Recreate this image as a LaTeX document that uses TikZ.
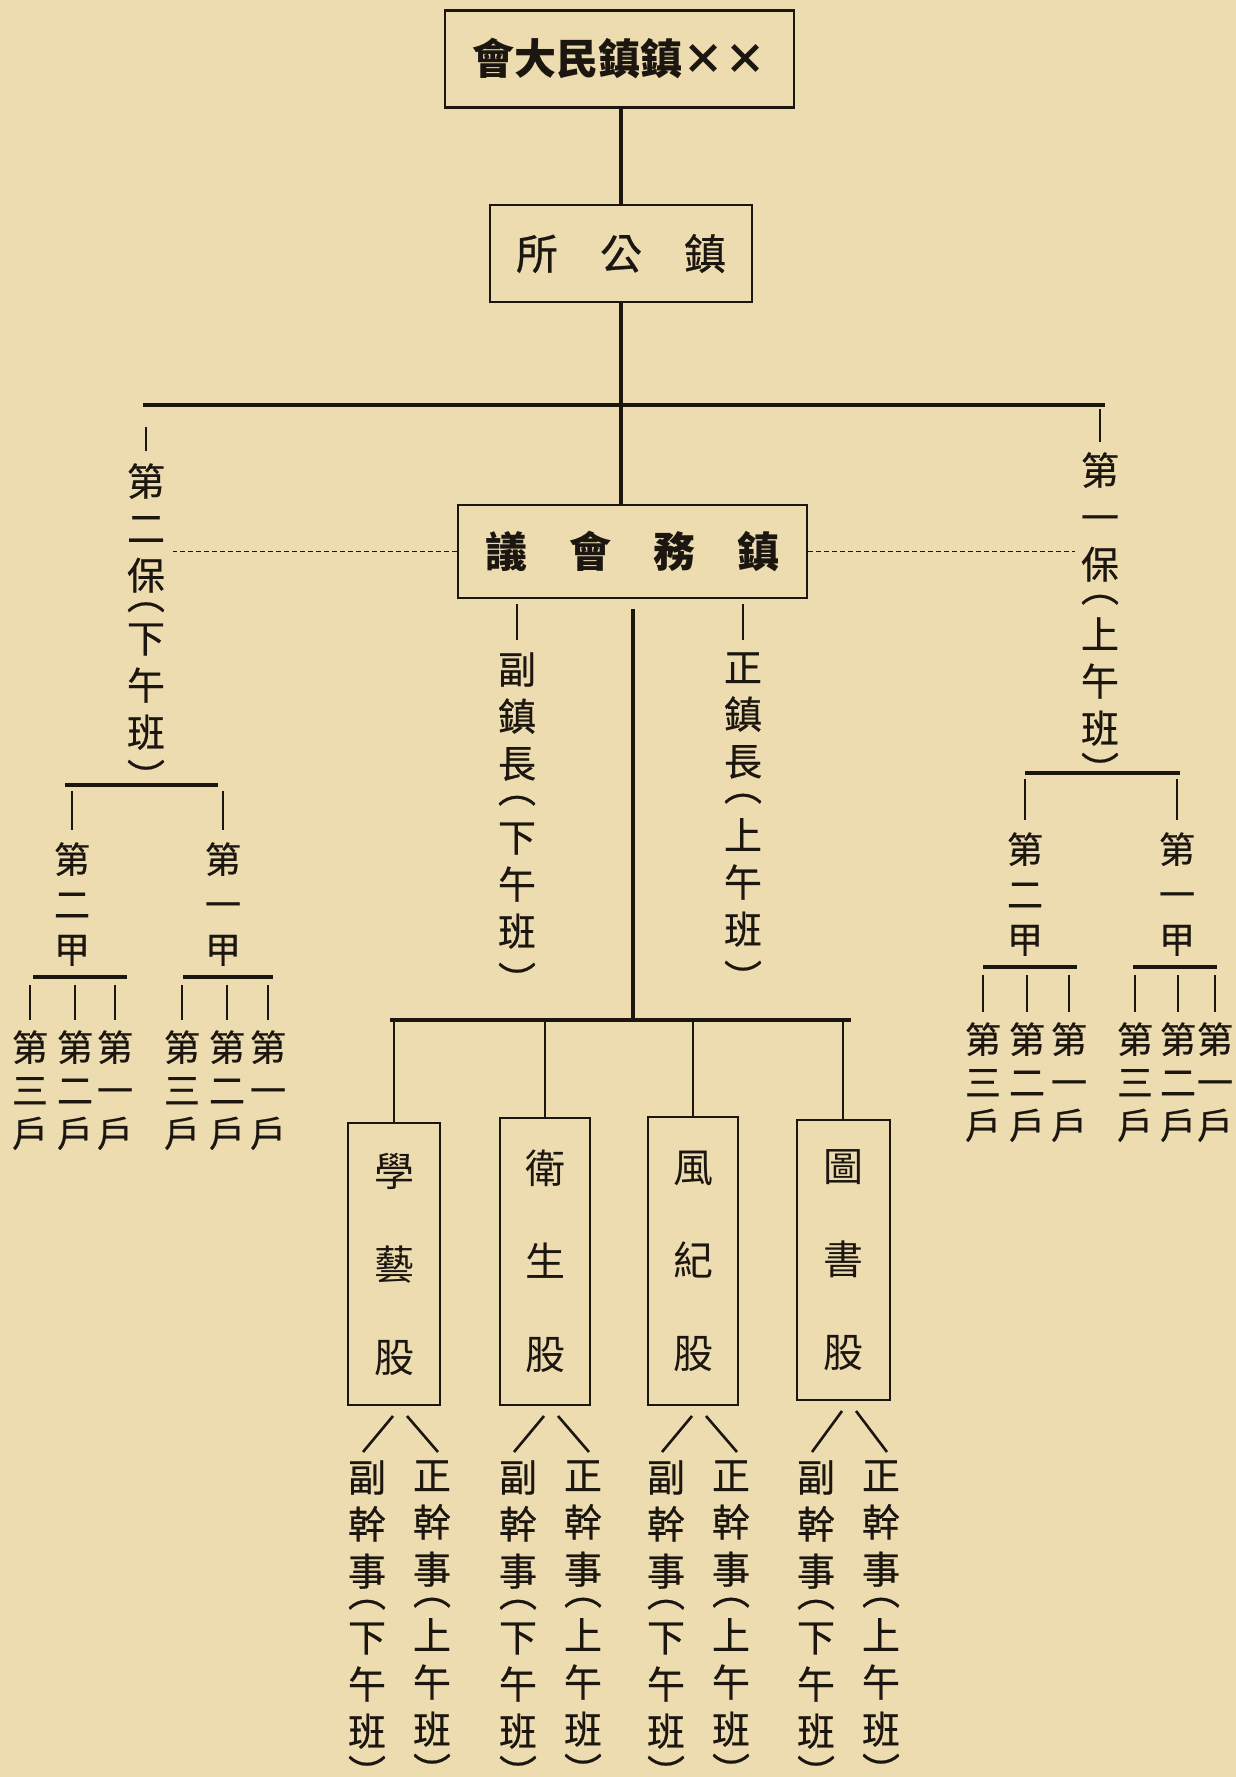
\documentclass[tikz,border=0pt]{standalone}
\usepackage{fontspec}
\newfontfamily\cjk{Noto Sans CJK TC}
\newfontfamily\cjkl{Noto Sans CJK TC}[FakeBold=0.6]
\usetikzlibrary{calc}
\definecolor{paper}{RGB}{237,220,176}
\definecolor{ink}{RGB}{28,22,16}
\newcommand{\fLab}{\cjkl\fontsize{19}{23.5}\selectfont}
\newcommand{\fSmall}{\cjkl\fontsize{18}{22.5}\selectfont}
\newcommand{\fHu}{\cjkl\fontsize{18}{21.5}\selectfont}
\newcommand{\fBox}{\cjk\fontsize{20}{46.5}\selectfont}
\newcommand{\fHead}{\cjk\bfseries\fontsize{21}{24}\selectfont}
\newcommand{\fOff}{\cjkl\fontsize{21}{24}\selectfont}
% vertical parentheses, centred on their line and taking no room of their own
\newcommand{\po}{\raisebox{0.31em}[0pt][0pt]{︵}}
\newcommand{\pc}{\raisebox{-0.34em}[0pt][0pt]{︶}}
\begin{document}
\begin{tikzpicture}[x=0.5pt,y=-0.5pt,
  hbox/.style={draw=ink,line width=1.1pt,inner sep=0pt,text=ink},
  vbox/.style={draw=ink,line width=1pt,inner sep=0pt,text=ink,align=center,font=\fBox},
  bar/.style={draw=ink,line width=2.4pt},
  vline/.style={draw=ink,line width=2pt},
  thin/.style={draw=ink,line width=0.9pt},
  tick/.style={draw=ink,line width=1.3pt},
  dashline/.style={draw=ink,line width=0.6pt,dash pattern=on 2.5pt off 1.5pt},
  vlab/.style={inner sep=0pt,anchor=north,align=center,text=ink}]
\fill[paper] (0,0) rectangle (1236,1777);
\useasboundingbox (0,0) rectangle (1236,1777);

% top levels
\node[hbox,minimum width=174.5pt,minimum height=48.5pt,font=\fHead] (top) at (619.5,59) {會大民鎮鎮××};
\node[hbox,minimum width=131pt,minimum height=48.5pt,font=\fOff] (office) at (621,253.5) {所　公　鎮};
\node[hbox,minimum width=174.5pt,minimum height=46.5pt,font=\fHead] (council) at (632.5,551.5) {議　會　務　鎮};

\draw[vline] (office.north) -- (office.north |- top.south);
\draw[vline] (office.south) -- (office.south |- council.north);

% main bar
\coordinate (barL) at (143,405);
\coordinate (barR) at (1105,405);
\draw[bar] (barL) -- (barR);

% bao labels
\node[vlab,font=\fLab] (bao2) at (146,463) {第\\二\\保\\[-7.75pt]\po\\[-7.75pt]下\\午\\班\\[-7.5pt]\pc};
\node[vlab,font=\fLab] (bao1) at (1100,452) {第\\一\\保\\[-6pt]\po\\[-6pt]上\\午\\班\\[-9pt]\pc};
\draw[tick] ($(bao2.north |- barL)+(0,22)$) -- ($(bao2.north)+(0,-12)$);
\draw[tick] ($(bao1.north |- barR)+(0,4)$) -- ($(bao1.north)+(0,-10)$);

\draw[dashline] (council.west) -- ($(council.west -| bao2.east)+(8,0)$);
\draw[dashline] (council.east) -- ($(council.east -| bao1.west)+(-6,0)$);

% zhen zhang
\node[vlab,font=\fLab] (fu) at (517,652) {副\\鎮\\長\\[-5pt]\po\\[-5pt]下\\午\\班\\[-5.5pt]\pc};
\node[vlab,font=\fLab] (zh) at (743,652) {正\\鎮\\長\\[-5pt]\po\\[-5pt]上\\午\\班\\[-5.5pt]\pc};
\draw[tick] ($(council.south -| fu.north)+(0,5)$) -- ($(fu.north)+(0,-12)$);
\draw[tick] ($(council.south -| zh.north)+(0,5)$) -- ($(zh.north)+(0,-12)$);

% central stem and lower bar
\coordinate (bar2L) at (390,1020);
\coordinate (bar2R) at (851,1020);
\draw[vline] ($(council.south)+(0,10)$) -- (council.south |- bar2L);
\draw[bar] (bar2L) -- (bar2R);

% sections
\node[vbox,minimum width=46pt,minimum height=141pt] (b1) at (394,1264) {學\\藝\\股};
\node[vbox,minimum width=45pt,minimum height=143.5pt] (b2) at (545,1261.5) {衛\\生\\股};
\node[vbox,minimum width=45pt,minimum height=144pt] (b3) at (693,1261) {風\\紀\\股};
\node[vbox,minimum width=46.5pt,minimum height=140pt] (b4) at (843,1260) {圖\\書\\股};
\foreach \b in {b1,b2,b3,b4}{
  \draw[thin] (\b.north |- bar2L) -- (\b.north);
}

% officers under sections
\foreach \b/\c in {b1/394,b2/545,b3/693,b4/843}{
  \node[vlab,font=\fLab] (f\b) at (\c-27,1460) {副\\幹\\事\\[-7pt]\po\\[-7pt]下\\午\\班\\[-9pt]\pc};
  \node[vlab,font=\fLab] (z\b) at (\c+38,1460) {正\\幹\\事\\[-7pt]\po\\[-7pt]上\\午\\班\\[-9pt]\pc};
  \draw[tick] ($(\b.south)+(-1,10)$) -- ($(f\b.north)+(-4,-8)$);
  \draw[tick] ($(\b.south)+(13,10)$) -- ($(z\b.north)+(6,-8)$);
}

% left bao subtree
\coordinate (lsbL) at (65,785);
\coordinate (lsbR) at (218,785);
\draw[bar] (lsbL) -- (lsbR);
\node[vlab,font=\fSmall] (lj2) at (72,842) {第\\二\\甲};
\node[vlab,font=\fSmall] (lj1) at (223,842) {第\\一\\甲};
\draw[tick] ($(lj2.north |- lsbL)+(0,6)$) -- ($(lj2.north)+(0,-12)$);
\draw[tick] ($(lj1.north |- lsbL)+(0,6)$) -- ($(lj1.north)+(0,-12)$);
\coordinate (llA) at (33,977); \coordinate (llB) at (127,977);
\coordinate (lrA) at (183,977); \coordinate (lrB) at (273,977);
\draw[bar] (llA) -- (llB);
\draw[bar] (lrA) -- (lrB);
\node[vlab,font=\fHu] (lh23) at (30,1030) {第\\三\\戶};
\node[vlab,font=\fHu] (lh22) at (75,1030) {第\\二\\戶};
\node[vlab,font=\fHu] (lh21) at (115,1030) {第\\一\\戶};
\node[vlab,font=\fHu] (lh13) at (182,1030) {第\\三\\戶};
\node[vlab,font=\fHu] (lh12) at (227,1030) {第\\二\\戶};
\node[vlab,font=\fHu] (lh11) at (268,1030) {第\\一\\戶};
\foreach \h in {lh23,lh22,lh21,lh13,lh12,lh11}{
  \draw[tick] ($(\h.north |- llA)+(0,8)$) -- ($(\h.north)+(0,-10)$);
}

% right bao subtree
\coordinate (rsbL) at (1025,773);
\coordinate (rsbR) at (1180,773);
\draw[bar] (rsbL) -- (rsbR);
\node[vlab,font=\fSmall] (rj2) at (1025,832) {第\\二\\甲};
\node[vlab,font=\fSmall] (rj1) at (1177,832) {第\\一\\甲};
\draw[tick] ($(rj2.north |- rsbL)+(0,6)$) -- ($(rj2.north)+(0,-12)$);
\draw[tick] ($(rj1.north |- rsbL)+(0,6)$) -- ($(rj1.north)+(0,-12)$);
\coordinate (rlA) at (983,967); \coordinate (rlB) at (1077,967);
\coordinate (rrA) at (1133,967); \coordinate (rrB) at (1217,967);
\draw[bar] (rlA) -- (rlB);
\draw[bar] (rrA) -- (rrB);
\node[vlab,font=\fHu] (rh23) at (983,1022) {第\\三\\戶};
\node[vlab,font=\fHu] (rh22) at (1027,1022) {第\\二\\戶};
\node[vlab,font=\fHu] (rh21) at (1069,1022) {第\\一\\戶};
\node[vlab,font=\fHu] (rh13) at (1135,1022) {第\\三\\戶};
\node[vlab,font=\fHu] (rh12) at (1178,1022) {第\\二\\戶};
\node[vlab,font=\fHu] (rh11) at (1215,1022) {第\\一\\戶};
\foreach \h in {rh23,rh22,rh21,rh13,rh12,rh11}{
  \draw[tick] ($(\h.north |- rlA)+(0,8)$) -- ($(\h.north)+(0,-10)$);
}
\end{tikzpicture}
\end{document}
